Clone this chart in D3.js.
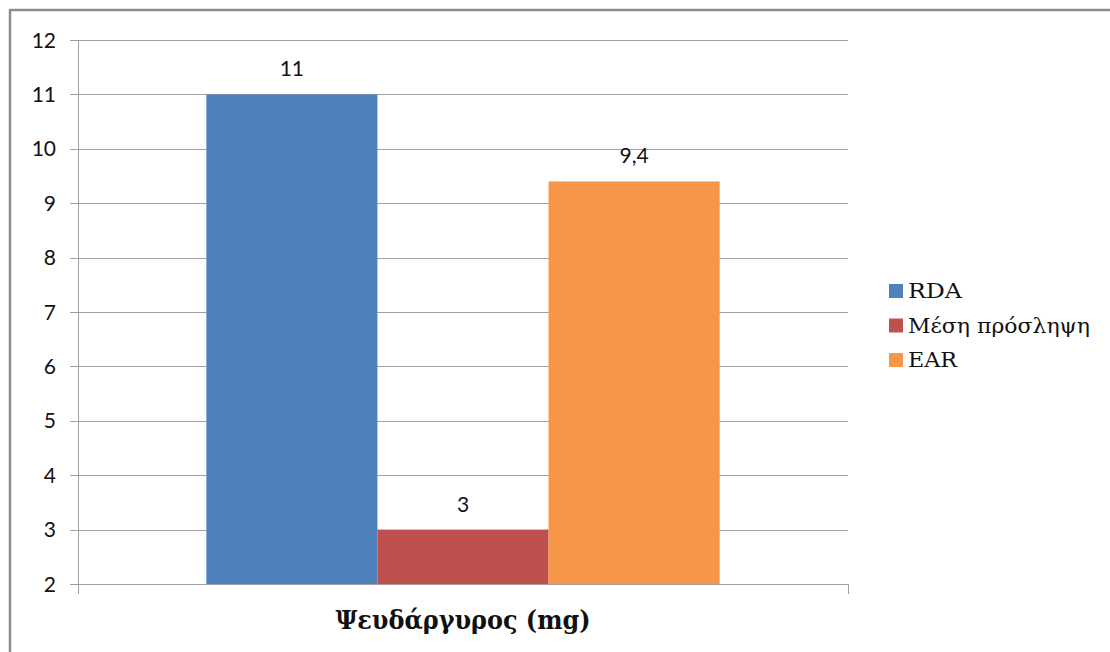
<!DOCTYPE html>
<html><head><meta charset="utf-8">
<script src="https://cdn.jsdelivr.net/npm/d3@7"></script>
<style>html,body{margin:0;padding:0;background:#fff;}svg{display:block;}</style>
</head><body>
<svg id="chart" width="1110" height="652"></svg>
<script>
const category = "Ψευδάργυρος (mg)";
const seriesNames = ["RDA", "Μέση πρόσληψη", "EAR"];
const seriesValues = [11, 3, 9.4];
const seriesLabels = ["11", "3", "9,4"];
const seriesColors = ["#4F81BD", "#C0504D", "#F79646"];
const yTicks = [2, 3, 4, 5, 6, 7, 8, 9, 10, 11, 12];

const svg = d3.select("#chart");
const W = 1110, H = 652;
const plot = {left: 78, right: 848, top: 40, bottom: 584};
const serif = "'DejaVu Serif', 'Liberation Serif', serif";

// outer frame (clipped on right and bottom)
svg.append("rect").attr("x", 10).attr("y", 10).attr("width", W + 20).attr("height", H + 20)
  .attr("fill", "#fff").attr("stroke", "#8c8c8c").attr("stroke-width", 2.5);

const y = d3.scaleLinear().domain([2, 12]).range([plot.bottom, plot.top]);
const x0 = d3.scaleBand().domain([category]).range([plot.left, plot.right]).padding(0);

// gap width 150% of one bar
const barW = x0.bandwidth() / (seriesNames.length + 1.5);
const xs = d3.scaleBand().domain(seriesNames)
  .range([x0(category) + barW * 0.75, x0(category) + barW * 0.75 + barW * seriesNames.length]).padding(0);

// gridlines
svg.append("g").selectAll("line").data(yTicks).join("line")
  .attr("x1", plot.left - 8).attr("x2", plot.right)
  .attr("y1", d => Math.round(y(d)) + 0.5).attr("y2", d => Math.round(y(d)) + 0.5)
  .attr("stroke", "#a0a0a0").attr("stroke-width", 1);

// bars
svg.append("g").selectAll("rect").data(seriesNames).join("rect")
  .attr("x", d => xs(d)).attr("width", xs.bandwidth())
  .attr("y", (d, i) => y(seriesValues[i])).attr("height", (d, i) => y(2) - y(seriesValues[i]))
  .attr("fill", (d, i) => seriesColors[i]);

// axes lines
svg.append("line").attr("x1", plot.left + 0.5).attr("x2", plot.left + 0.5)
  .attr("y1", plot.top).attr("y2", plot.bottom + 10).attr("stroke", "#a0a0a0");
svg.append("line").attr("x1", plot.right + 0.5).attr("x2", plot.right + 0.5)
  .attr("y1", plot.bottom).attr("y2", plot.bottom + 10).attr("stroke", "#a0a0a0");
svg.append("line").attr("x1", plot.left).attr("x2", plot.right)
  .attr("y1", plot.bottom + 0.5).attr("y2", plot.bottom + 0.5).attr("stroke", "#a0a0a0");

// y tick labels
svg.append("g").selectAll("text").data(yTicks).join("text")
  .attr("x", 56).attr("y", d => y(d)).attr("dy", "0.36em")
  .attr("text-anchor", "end").attr("font-family", "Lato, 'Open Sans', sans-serif")
  .attr("font-size", 21).attr("fill", "#111").text(d => d);

// data labels
svg.append("g").selectAll("text").data(seriesNames).join("text")
  .attr("x", d => xs(d) + xs.bandwidth() / 2).attr("y", (d, i) => y(seriesValues[i]) - 18)
  .attr("text-anchor", "middle").attr("font-family", "Lato, 'Open Sans', sans-serif")
  .attr("font-size", 21).attr("fill", "#111").text((d, i) => seriesLabels[i]);

// category title
svg.append("text").attr("x", (plot.left + plot.right) / 2).attr("y", 629)
  .attr("text-anchor", "middle").attr("font-family", serif)
  .attr("font-weight", "bold").attr("font-size", 26).attr("fill", "#111")
  .attr("textLength", 255).attr("lengthAdjust", "spacingAndGlyphs").text(category);

// legend
const legendWidths = { "RDA": 54, "Μέση πρόσληψη": 182, "EAR": 49 };
const lg = svg.append("g").selectAll("g").data(seriesNames).join("g")
  .attr("transform", (d, i) => `translate(889, ${291 + i * 34.5})`);
lg.append("rect").attr("x", 0).attr("y", -7).attr("width", 14).attr("height", 14)
  .attr("fill", (d, i) => seriesColors[i]);
lg.append("text").attr("x", 19).attr("y", 0).attr("dy", "0.35em")
  .attr("font-family", serif)
  .attr("font-size", 20).attr("fill", "#111").text(d => d)
  .attr("textLength", d => legendWidths[d]).attr("lengthAdjust", "spacingAndGlyphs");
</script>
</body></html>
